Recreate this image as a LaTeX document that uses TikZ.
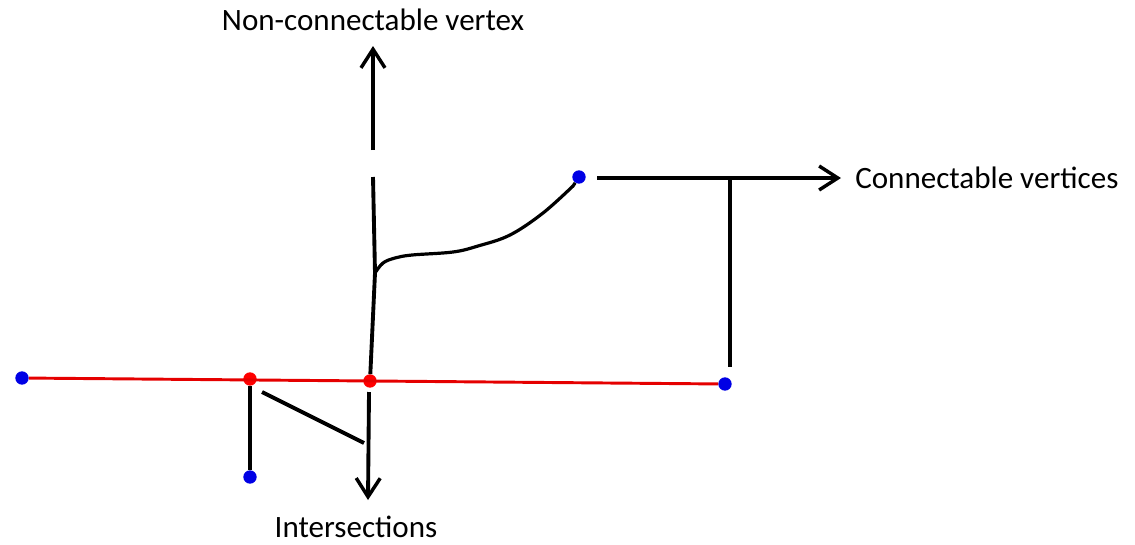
\documentclass[tikz,border=0pt]{standalone}
\usepackage{fontspec}
\setmainfont{Carlito}
\usetikzlibrary{arrows.meta}
\begin{document}
\begin{tikzpicture}[x=0.75pt,y=-0.75pt,
  blk/.style={line width=2.9pt,black},
  redline/.style={line width=2.2pt,red!90!black},
  arr/.style={blk,-{Straight Barb[length=14pt,width=18pt,line width=2.6pt]}},
  bdot/.style={circle,fill=blue!90!black,inner sep=0pt,minimum size=10pt},
  rdot/.style={circle,fill=red,inner sep=0pt,minimum size=10pt},
  lbl/.style={font=\fontsize{23.3}{28}\selectfont,inner sep=0pt}]
\useasboundingbox (0,0) rectangle (1135,544);
% dots
\node[bdot] (bL) at (22,378) {};
\node[bdot] (bR) at (725,384) {};
\node[rdot] (r1) at (250,379) {};
\node[rdot] (r2) at (370,381) {};
\node[bdot] (bB) at (250,477) {};
\node[bdot] (bT) at (579,177) {};
% labels
\node[lbl] (tNC) at (373,20) {Non-connectable vertex};
\node[lbl,anchor=west] (tC) at (855,178) {Connectable vertices};
\node[lbl,anchor=base] (tI) at (356,537) {Intersections};
% coordinates
\coordinate (upS) at (373,150);
\coordinate (upE) at (373,46);
\coordinate (vTop) at (373,177);
\coordinate (br) at (375,273);
\coordinate (rtS) at (597,178);
\coordinate (rtE) at (841,178);
\coordinate (drTop) at (730,178);
\coordinate (drBot) at (730,367);
\coordinate (dgS) at (262,392);
\coordinate (dgE) at (364,443);
\coordinate (dnS) at (369,392);
\coordinate (dnE) at (368,500);
% red line
\draw[redline] (bL) -- (bR);
% connectors
\draw[arr] (upS) -- (upE);
\draw[blk] (vTop) -- (br) -- (r2);
\draw[blk,line width=2.4pt] plot[smooth,tension=0.6] coordinates {(br) (383,263) (395,258) (412,255) (453,252) (478,246) (510,235) (543,213) (573,186)} -- (bT);
\draw[arr] (rtS) -- (rtE);
\draw[blk] (drTop) -- (drBot);
\draw[blk] (r1) -- (bB);
\draw[blk] (dgS) -- (dgE);
\draw[arr] (dnS) -- (dnE);
\end{tikzpicture}
\end{document}
